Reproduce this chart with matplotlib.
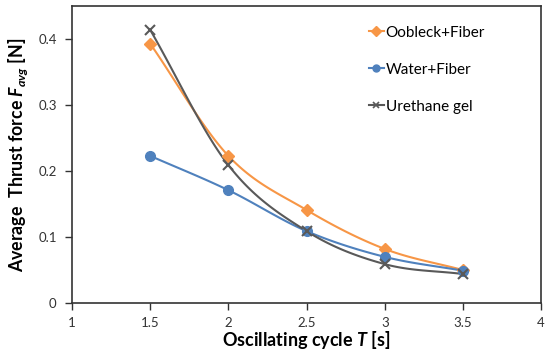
import numpy as np
import matplotlib
matplotlib.use("Agg")
import matplotlib.pyplot as plt

plt.rcParams['font.family'] = ['Lato', 'DejaVu Sans']
plt.rcParams['mathtext.fontset'] = 'custom'
plt.rcParams['mathtext.it'] = 'Lato:bold:italic'
plt.rcParams['mathtext.rm'] = 'Lato:bold'
plt.rcParams['mathtext.bf'] = 'Lato:bold'

cycle = [1.5, 2.0, 2.5, 3.0, 3.5]
oobleck = [0.393, 0.223, 0.141, 0.082, 0.050]
water = [0.223, 0.171, 0.109, 0.070, 0.049]
urethane = [0.414, 0.209, 0.109, 0.059, 0.044]

labels = ["Oobleck+Fiber", "Water+Fiber", "Urethane gel"]
colors = ["#F79646", "#4F81BD", "#595959"]
markers = ["D", "o", "x"]


def smooth(x, y, n=30):
    # Catmull-Rom style curve through points (Excel "smoothed line" look)
    x = np.asarray(x, float)
    y = np.asarray(y, float)
    px = np.concatenate([[2 * x[0] - x[1]], x, [2 * x[-1] - x[-2]]])
    py = np.concatenate([[2 * y[0] - y[1]], y, [2 * y[-1] - y[-2]]])
    xs, ys = [], []
    t = np.linspace(0, 1, n)
    for i in range(1, len(px) - 2):
        p0, p1, p2, p3 = [np.array([px[j], py[j]]) for j in (i - 1, i, i + 1, i + 2)]
        c1 = p1 + (p2 - p0) / 6
        c2 = p2 - (p3 - p1) / 6
        b = ((1 - t) ** 3)[:, None] * p1 + (3 * (1 - t) ** 2 * t)[:, None] * c1 \
            + (3 * (1 - t) * t ** 2)[:, None] * c2 + (t ** 3)[:, None] * p2
        xs.append(b[:, 0])
        ys.append(b[:, 1])
    return np.concatenate(xs), np.concatenate(ys)


fig = plt.figure(figsize=(5.45, 3.52), dpi=100)
ax = fig.add_axes([0.132, 0.139, 0.861, 0.844])

for ys, lab, c, m in zip([oobleck, water, urethane], labels, colors, markers):
    sx, sy = smooth(cycle, ys)
    ax.plot(sx, sy, color=c, lw=1.5, zorder=2)
    ms = 6 if m == "D" else 7
    ax.plot(cycle, ys, linestyle='none', marker=m, color=c, ms=ms,
            mew=1.5 if m == "x" else 1, zorder=3)
    ax.plot([], [], color=c, lw=1.5, marker=m, ms=5, mew=1.2 if m == "x" else 1, label=lab)

ax.set_xlim(1, 4)
ax.set_ylim(0, 0.45)
ax.set_xticks([1, 1.5, 2, 2.5, 3, 3.5, 4])
ax.set_xticklabels(["1", "1.5", "2", "2.5", "3", "3.5", "4"])
ax.set_yticks([0, 0.1, 0.2, 0.3, 0.4])
ax.set_yticklabels(["0", "0.1", "0.2", "0.3", "0.4"])
ax.tick_params(direction='out', length=5, width=1, labelsize=9.5, colors='#333333')
ax.tick_params(axis='x', pad=5)
ax.tick_params(axis='y', pad=6)
for s in ax.spines.values():
    s.set_color('#333333')
    s.set_linewidth(1.2)

ax.set_xlabel(r"Oscillating cycle $T$ [s]", fontsize=13, fontweight='bold', labelpad=0)
ax.set_ylabel(r"Average  Thrust force $F_{avg}$ [N]", fontsize=12.8, fontweight='bold', labelpad=6)

leg = ax.legend(loc='upper left', bbox_to_anchor=(0.60, 0.985), frameon=False,
                fontsize=11, handlelength=1.0, handletextpad=0.1,
                labelspacing=1.5, borderaxespad=0.6)

fig.savefig("out.png", dpi=100)
